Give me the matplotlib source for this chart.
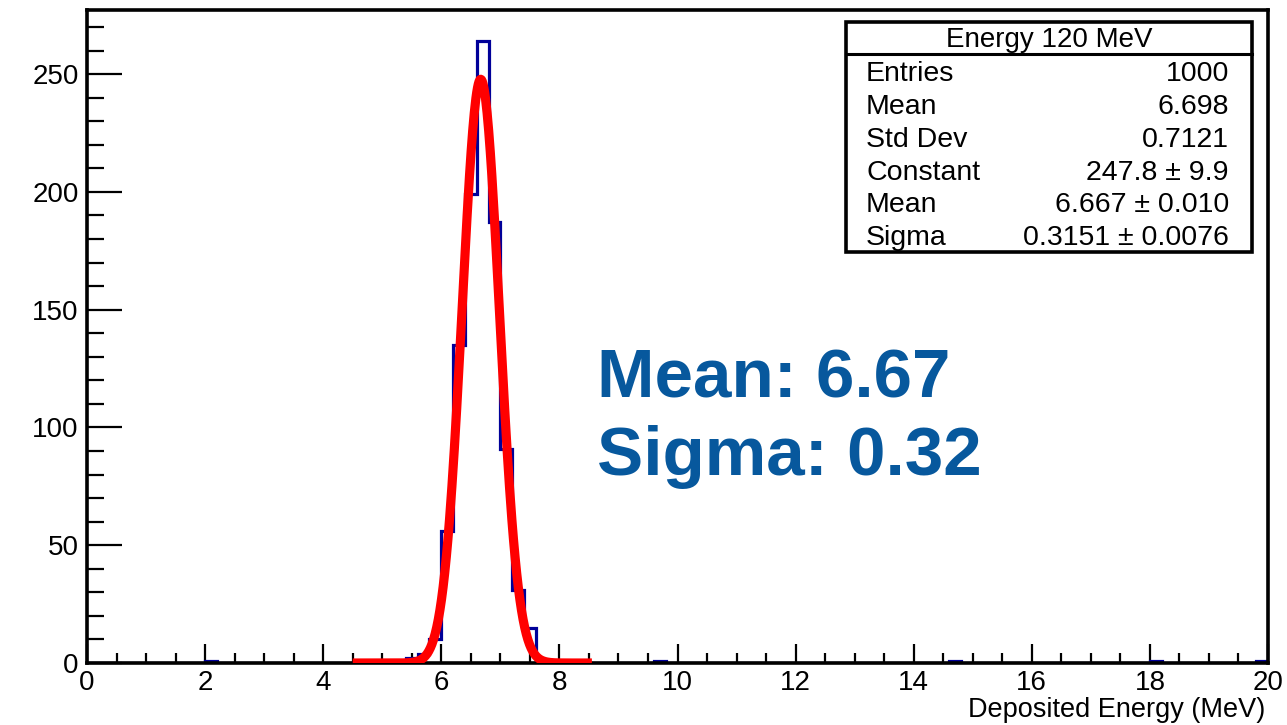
import numpy as np
import matplotlib
matplotlib.use("Agg")
import matplotlib.pyplot as plt
from matplotlib.patches import Rectangle
from matplotlib.lines import Line2D
from matplotlib.ticker import MultipleLocator

# ---- data ----
n_bins = 100
x_min, x_max = 0.0, 20.0
bin_lo = [2.0, 5.4, 5.6, 5.8, 6.0, 6.2, 6.4, 6.6, 6.8, 7.0, 7.2, 7.4, 7.6, 9.6, 14.6, 18.0, 19.8]
bin_counts = [1, 2, 4, 10, 56, 135, 199, 264, 187, 91, 31, 15, 1, 1, 1, 1, 1]

fit_const = 247.8
fit_mean = 6.667
fit_sigma = 0.3151
fit_range = (4.5, 8.55)

stats_title = "Energy 120 MeV"
stats_names = ["Entries", "Mean", "Std Dev", "Constant", "Mean", "Sigma"]
stats_values = ["1000", "6.698", "0.7121", "247.8 \u00b1 9.9", "6.667 \u00b1 0.010", "0.3151 \u00b1 0.0076"]
big_lines = ["Mean: 6.67", "Sigma: 0.32"]
x_label = "Deposited Energy (MeV)"

# ---- figure ----
plt.rcParams['font.family'] = ['Liberation Sans', 'DejaVu Sans']
W, H = 1287, 725
fig = plt.figure(figsize=(W / 100, H / 100), dpi=100)

def fx(x):
    return x / W

def fy(y):
    return 1 - y / H

ax = fig.add_axes([fx(87), fy(663), fx(1268) - fx(87), fy(10) - fy(663)])

edges = np.linspace(x_min, x_max, n_bins + 1)
counts = np.zeros(n_bins)
for lo, c in zip(bin_lo, bin_counts):
    idx = int(round((lo - x_min) / (x_max - x_min) * n_bins))
    counts[idx] = c

ax.stairs(counts, edges, color='#000099', linewidth=2.3, baseline=0, zorder=2)

xf = np.linspace(fit_range[0], fit_range[1], 300)
yf = fit_const * np.exp(-0.5 * ((xf - fit_mean) / fit_sigma) ** 2)
ax.plot(xf, yf, color='#ff0000', linewidth=6.6, solid_capstyle='butt', zorder=3)

ax.set_xlim(x_min, x_max)
ax.set_ylim(0, counts.max() * 1.05)

for s in ax.spines.values():
    s.set_linewidth(2.6)
    s.set_color('black')

ax.xaxis.set_major_locator(MultipleLocator(2))
ax.xaxis.set_minor_locator(MultipleLocator(0.5))
ax.yaxis.set_major_locator(MultipleLocator(50))
ax.yaxis.set_minor_locator(MultipleLocator(10))

ax.tick_params(axis='x', which='major', direction='in', length=14, width=1.6, top=False,
               labelsize=20, pad=5)
ax.tick_params(axis='x', which='minor', direction='in', length=7, width=1.6, top=False)
ax.tick_params(axis='y', which='major', direction='in', length=25, width=1.6, right=False,
               labelsize=20, pad=6)
ax.tick_params(axis='y', which='minor', direction='in', length=12.5, width=1.6, right=False)

ax.set_xticks(np.arange(0, 21, 2))
ax.set_xticklabels([str(v) for v in range(0, 21, 2)])

# x label, right aligned
fig.text(fx(1265), fy(723), x_label, ha='right', va='bottom', fontsize=19.5)

# ---- stats box ----
bx0, by0, bx1, by1 = 846, 22, 1252, 252
box = Rectangle((fx(bx0), fy(by1)), fx(bx1) - fx(bx0), fy(by0) - fy(by1),
                transform=fig.transFigure, facecolor='white', edgecolor='black',
                linewidth=2.6, zorder=10)
fig.patches.append(box)
fig.lines.append(Line2D([fx(bx0), fx(bx1)], [fy(54), fy(54)], transform=fig.transFigure,
                        color='black', linewidth=2.2, zorder=11))
fig.text(fx((bx0 + bx1) / 2), fy(40), stats_title, ha='center', va='center',
         fontsize=20, zorder=12)
row_y = [74, 107, 140, 173, 205, 238]
for name, val, yy in zip(stats_names, stats_values, row_y):
    fig.text(fx(866), fy(yy), name, ha='left', va='center', fontsize=20.5, zorder=12)
    fig.text(fx(1229), fy(yy), val, ha='right', va='center', fontsize=20.5, zorder=12)

# ---- big annotation ----
big_color = '#07589D'
fig.text(fx(597), fy(397), big_lines[0], ha='left', va='baseline', fontsize=49.8,
         fontweight='bold', color=big_color)
fig.text(fx(597), fy(475), big_lines[1], ha='left', va='baseline', fontsize=49.8,
         fontweight='bold', color=big_color)

fig.savefig('out.png', dpi=100)
